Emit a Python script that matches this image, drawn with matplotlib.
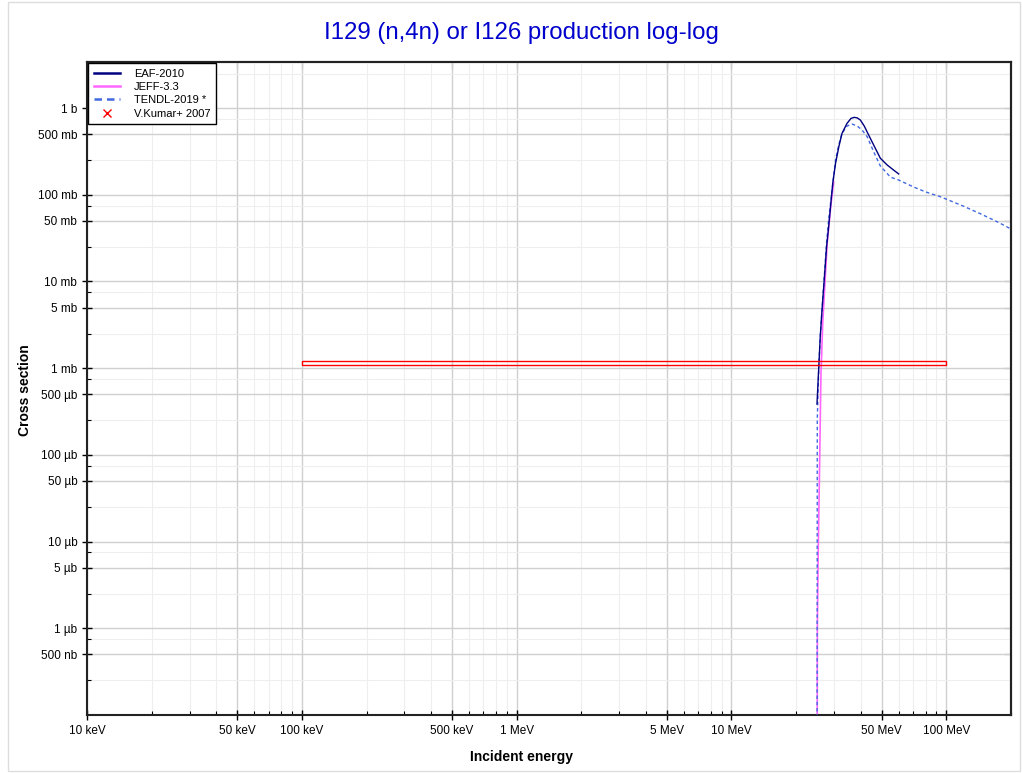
import numpy as np
import matplotlib
matplotlib.use("Agg")
import matplotlib.pyplot as plt
from matplotlib.ticker import FixedLocator, FuncFormatter, NullFormatter
from matplotlib.lines import Line2D
from matplotlib.patches import Rectangle

plt.rcParams['font.family'] = ['Liberation Sans', 'DejaVu Sans']

# energies in MeV, cross sections in mb
eaf_e = [25.0, 25.5, 25.9, 26.4, 26.9, 27.7, 28.2, 29.6, 30.5, 31.6, 32.7, 34.5,
         36.0, 37.3, 38.5, 39.8, 41.5, 43.1, 46.3, 49.3, 53.0, 56.5, 60.0]
eaf_xs = [0.386, 1.06, 2.35, 4.77, 9.0, 25, 38, 136, 230, 359, 512, 667,
          760, 782, 770, 728, 620, 512, 359, 264, 221, 195, 174]

jeff_e = [25.0, 25.1, 25.3, 25.75, 26.0, 26.1, 26.6, 27.4, 27.9, 29.0, 29.9]
jeff_xs = [1e-6, 1e-3, 0.006, 0.1, 0.5, 0.9, 3.4, 12.7, 28, 75, 140]

tendl_e = [25.0, 25.08, 25.5, 25.9, 26.4, 26.9, 27.7, 28.4, 29.4, 30.5, 31.6, 32.7,
           34.5, 36.4, 38.5, 40.5, 42.8, 46.0, 49.3, 54.9, 60.0, 70.4, 80.0,
           93.8, 100.0, 120.0, 143.9, 175.0, 205.0]
tendl_xs = [1e-6, 0.26, 1.06, 2.35, 4.8, 9.5, 28, 55, 114, 253, 380, 512,
            621, 655, 620, 560, 468, 310, 215, 160, 148, 123, 108,
            95, 89, 74, 60.5, 48, 39]

# V.Kumar+ 2007: energy range (MeV), value and error (mb)
kumar_e_lo = 0.1
kumar_e_hi = 100.0
kumar_xs = 1.15
kumar_dxs = 0.07

xmaj = [1e4, 5e4, 1e5, 5e5, 1e6, 5e6, 1e7, 5e7, 1e8]
ymaj = [5e-7, 1e-6, 5e-6, 1e-5, 5e-5, 1e-4, 5e-4, 1e-3, 5e-3, 1e-2, 5e-2, 1e-1, 5e-1, 1.0]


def fmt_energy(v, pos=None):
    if v >= 1e6:
        return f"{v / 1e6:g} MeV"
    if v >= 1e3:
        return f"{v / 1e3:g} keV"
    return f"{v:g} eV"


def fmt_xs(v, pos=None):
    if v >= 0.999:
        return f"{v:.3g} b"
    if v >= 0.999e-3:
        return f"{v * 1e3:.3g} mb"
    if v >= 0.999e-6:
        return f"{v * 1e6:.3g} µb"
    return f"{v * 1e9:.3g} nb"


fig = plt.figure(figsize=(10.22, 7.73), dpi=100)
ax = fig.add_axes([87 / 1022, 1 - 715 / 773, (1011 - 87) / 1022, (715 - 62) / 773])

fig.patches.append(Rectangle((8 / 1022, 2 / 773), 1012 / 1022, 769 / 773,
                             transform=fig.transFigure, fill=False,
                             edgecolor='#dddddd', lw=1))

ax.set_xscale('log')
ax.set_yscale('log')
ax.set_xlim(1e4, 2e8)
ax.set_ylim(1e-7, 3.4)

ax.plot(np.array(tendl_e) * 1e6, np.array(tendl_xs) * 1e-3, color='#4169E1',
        lw=1, ls=(0, (2.5, 2)), zorder=3)
ax.plot(np.array(jeff_e) * 1e6, np.array(jeff_xs) * 1e-3, color='#FF66FF',
        lw=1.2, zorder=2)
ax.plot(np.array(eaf_e) * 1e6, np.array(eaf_xs) * 1e-3, color='#000080',
        lw=1, zorder=4)

ax.add_patch(Rectangle((kumar_e_lo * 1e6, (kumar_xs - kumar_dxs) * 1e-3),
                       (kumar_e_hi - kumar_e_lo) * 1e6, 2 * kumar_dxs * 1e-3,
                       fill=False, edgecolor='red', lw=1, zorder=5))

# ticks
ax.xaxis.set_major_locator(FixedLocator(xmaj))
ax.xaxis.set_major_formatter(FuncFormatter(fmt_energy))
xmin = [m * 10 ** d for d in range(4, 9) for m in (2, 3, 4, 6, 7, 8, 9)]
ax.xaxis.set_minor_locator(FixedLocator(xmin))
ax.xaxis.set_minor_formatter(NullFormatter())

ax.yaxis.set_major_locator(FixedLocator(ymaj))
ax.yaxis.set_major_formatter(FuncFormatter(fmt_xs))
ymin = [m * 10.0 ** d for d in range(-8, 1) for m in (2.5, 7.5)]
ax.yaxis.set_minor_locator(FixedLocator(ymin))
ax.yaxis.set_minor_formatter(NullFormatter())

ax.tick_params(which='major', direction='inout', length=7, width=1, labelsize=8.5)
ax.tick_params(which='minor', direction='in', length=3, width=0.8)

sec = ax.secondary_yaxis('right')
sec.yaxis.set_major_locator(FixedLocator(ymaj))
sec.yaxis.set_minor_locator(FixedLocator(ymin))
sec.yaxis.set_major_formatter(NullFormatter())
sec.yaxis.set_minor_formatter(NullFormatter())
sec.tick_params(which='major', direction='in', length=5)
sec.tick_params(which='minor', direction='in', length=3)
sec.spines['right'].set_linewidth(1.5)

top = ax.secondary_xaxis('top')
top.xaxis.set_major_locator(FixedLocator(xmaj))
top.xaxis.set_minor_locator(FixedLocator(xmin))
top.xaxis.set_major_formatter(NullFormatter())
top.xaxis.set_minor_formatter(NullFormatter())
top.tick_params(which='major', direction='in', length=5)
top.tick_params(which='minor', direction='in', length=3)
top.spines['top'].set_linewidth(1.5)

ax.grid(which='major', color='#d0d0d0', lw=1)
ax.grid(which='minor', color='#eeeeee', lw=0.8)
ax.set_axisbelow(True)

for s in ax.spines.values():
    s.set_linewidth(1.5)
    s.set_color('#222222')

fig.text(521 / 1022, 1 - 33 / 773, "I129 (n,4n) or I126 production log-log",
         color='#0000CC', fontsize=17.3, ha='center', va='center')
fig.text(521 / 1022, 1 - 757 / 773, "Incident energy", fontsize=10,
         fontweight='bold', ha='center', va='center')
fig.text(25 / 1022, 1 - 390 / 773, "Cross section", fontsize=10,
         fontweight='bold', ha='center', va='center', rotation=90)

handles = [
    Line2D([], [], color='#000080', lw=1.8),
    Line2D([], [], color='#FF66FF', lw=1.8),
    Line2D([], [], color='#4169E1', lw=1.8, ls=(0, (3, 2))),
    Line2D([], [], color='red', marker='x', ls='none', markersize=6),
]
labels = ["EAF-2010", "JEFF-3.3", "TENDL-2019 *", "V.Kumar+ 2007"]
leg = ax.legend(handles, labels, loc='upper left', fontsize=8, fancybox=False,
                edgecolor='black', framealpha=1, borderaxespad=0.1,
                handlelength=2.4, labelspacing=0.3, borderpad=0.5,
                handletextpad=1.2)
leg.get_frame().set_linewidth(1)
leg.set_zorder(10)

fig.savefig("out.png", dpi=100)
